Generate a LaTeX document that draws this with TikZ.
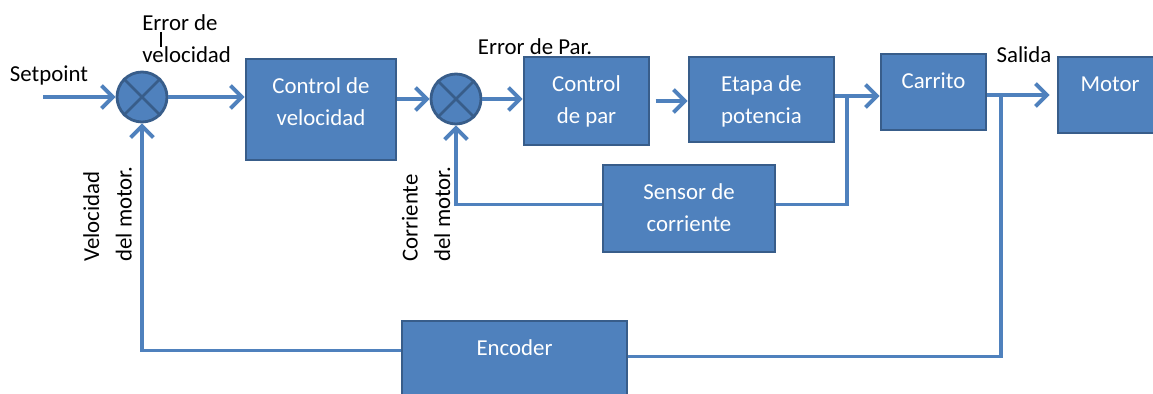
\documentclass[tikz,border=0pt]{standalone}
\usepackage{fontspec}
\setmainfont{Carlito}
\usetikzlibrary{positioning, calc, arrows.meta}
\definecolor{blkFill}{RGB}{79,129,189}
\definecolor{blkEdge}{RGB}{56,93,138}
\definecolor{blkLine}{RGB}{79,129,189}

\begin{document}
\begin{tikzpicture}[x=0.02cm, y=-0.02cm,
  font=\fontsize{13}{18.5}\selectfont,
  box/.style={draw=blkEdge, fill=blkFill, line width=1.6pt, rectangle},
  boxtxt/.style={anchor=base, yshift=-0.71cm, align=center, text=white, inner sep=0pt},
  boxtwo/.style={boxtxt, yshift=-18.5pt},
  sumj/.style={circle, draw=blkEdge, fill=blkFill, line width=1.6pt, minimum size=1cm, inner sep=0pt},
  wire/.style={draw=blkLine, line width=2.2pt},
  arrow/.style={wire, -{Straight Barb[length=6.5pt, width=13pt]}},
  lbl/.style={inner sep=0pt, text=black}
]
  \useasboundingbox (0,0) rectangle (1153,394);
  \clip (0,0) rectangle (1153,394);

  % summing junctions
  \node[sumj] (c1) at (142,97) {};
  \node[sumj] (c2) at (456,99) {};
  \foreach \s in {c1,c2}
    \draw[draw=blkEdge, line width=1.6pt] (\s.north west) -- (\s.south east) (\s.north east) -- (\s.south west);

  % blocks
  \node[box, minimum width=3cm, minimum height=2.02cm, label={[boxtwo]90:Control de\\velocidad}] (cv) at (321,109.5) {};
  \node[box, minimum width=2.5cm, minimum height=1.76cm, label={[boxtwo]90:Control\\de par}] (cp) at (586.5,101) {};
  \node[box, minimum width=2.9cm, minimum height=1.7cm, label={[boxtwo]90:Etapa de\\potencia}] (et) at (761.5,99.5) {};
  \node[box, minimum width=2.1cm, minimum height=1.52cm, label={[boxtxt]90:Carrito}] (ca) at (933.5,92) {};
  \node[box, minimum width=2.08cm, minimum height=1.52cm, label={[boxtxt]90:Motor}] (mo) at (1110,95) {};
  \node[box, minimum width=3.44cm, minimum height=1.74cm, label={[boxtwo]90:Sensor de\\corriente}] (se) at (689,208.5) {};
  \node[box, minimum width=4.5cm, minimum height=1.58cm, label={[boxtxt]90:Encoder}] (en) at (514.5,360.5) {};

  % texts
  \node[lbl] (setp) at (49,75) {Setpoint};
  \node[lbl, align=left, anchor=west] (errv) at (142,38.5) {Error de\\velocidad};
  \node[lbl] (errp) at (535,47) {Error de Par.};
  \node[lbl] (sal) at (1024,55) {Salida};
  \node[lbl, rotate=90, align=left, anchor=west] (velm) at (107.5,262) {Velocidad\\del motor.};
  \node[lbl, rotate=90, align=left, anchor=west] (corm) at (426,262) {Corriente\\del motor.};
  \draw[black, line width=0.9pt] (161,32) -- (161,47);

  % connections
  \coordinate (sp) at (43,97);
  \coordinate (ja) at (847,96);
  \coordinate (jb) at (1001,95);

  \draw[arrow] (sp) -- (c1);
  \draw[arrow] (c1) -- (c1 -| cv.west);
  \draw[arrow] (cv.east |- c2) -- (c2);
  \draw[arrow] (c2) -- (c2 -| cp.west);
  \draw[arrow, shorten <=3pt] (cp.east) -- (cp.east -| et.west);
  \draw[arrow] (et.east |- ja) -- (ja -| ca.west);
  \draw[wire] (ja) |- ($(se.east)+(0,-4)$);
  \draw[arrow] ($(se.west)+(0,-4)$) -| (c2);
  \draw[arrow, shorten >=4pt] (ca.east |- jb) -- (jb -| mo.west);
  \draw[wire] (jb) |- ($(en.east)+(0,-4)$);
  \draw[arrow] ($(en.west)+(0,-10)$) -| (c1);
\end{tikzpicture}
\end{document}
